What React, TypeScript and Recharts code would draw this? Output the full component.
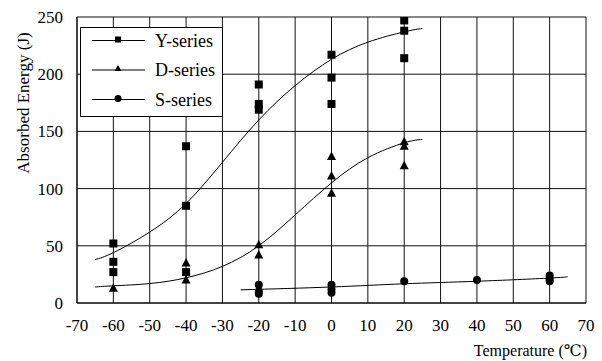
import React from "react";
import {
  ComposedChart,
  XAxis,
  YAxis,
  CartesianGrid,
  Line,
  Scatter,
  Legend,
} from "recharts";

const FONT = "Liberation Serif, DejaVu Serif, serif";

const xTicks = [-70, -60, -50, -40, -30, -20, -10, 0, 10, 20, 30, 40, 50, 60, 70];
const yTicks = [0, 50, 100, 150, 200, 250];

const yPoints = [
  { x: -60, y: 52 }, { x: -60, y: 36 }, { x: -60, y: 27 },
  { x: -40, y: 137 }, { x: -40, y: 85 }, { x: -40, y: 27 },
  { x: -20, y: 191 }, { x: -20, y: 174 }, { x: -20, y: 169 },
  { x: 0, y: 217 }, { x: 0, y: 197 }, { x: 0, y: 174 },
  { x: 20, y: 247 }, { x: 20, y: 238 }, { x: 20, y: 214 },
];

const dPoints = [
  { x: -60, y: 13 },
  { x: -40, y: 35 }, { x: -40, y: 20 },
  { x: -20, y: 51 }, { x: -20, y: 42 },
  { x: 0, y: 128 }, { x: 0, y: 111 }, { x: 0, y: 96 },
  { x: 20, y: 141 }, { x: 20, y: 137 }, { x: 20, y: 120 },
];

const sPoints = [
  { x: -20, y: 16 }, { x: -20, y: 10 }, { x: -20, y: 8 },
  { x: 0, y: 16 }, { x: 0, y: 12 }, { x: 0, y: 9 },
  { x: 20, y: 19 },
  { x: 40, y: 20 },
  { x: 60, y: 24 }, { x: 60, y: 21 }, { x: 60, y: 19 },
];

const yCurve = [
  { x: -65, y: 38 }, { x: -60, y: 44 }, { x: -50, y: 62 }, { x: -40, y: 87 },
  { x: -30, y: 123 }, { x: -20, y: 160 }, { x: -10, y: 190 }, { x: 0, y: 213 },
  { x: 10, y: 228 }, { x: 20, y: 237 }, { x: 25, y: 240 },
];

const dCurve = [
  { x: -65, y: 14 }, { x: -60, y: 15 }, { x: -50, y: 17 }, { x: -40, y: 22 },
  { x: -30, y: 32 }, { x: -20, y: 50 }, { x: -10, y: 77 }, { x: 0, y: 105 },
  { x: 10, y: 127 }, { x: 20, y: 140 }, { x: 25, y: 143 },
];

const sCurve = [
  { x: -25, y: 11.5 }, { x: 0, y: 14 }, { x: 20, y: 16.8 },
  { x: 40, y: 19 }, { x: 60, y: 21.8 }, { x: 65, y: 23 },
];

const legendItems = [
  { name: "Y-series", shape: "square" },
  { name: "D-series", shape: "triangle" },
  { name: "S-series", shape: "circle" },
];

const Square = (props: any) => {
  const { cx, cy } = props;
  if (cx == null || cy == null) return null;
  return <rect x={cx - 4} y={cy - 4} width={8} height={8} fill="#000" />;
};

const Triangle = (props: any) => {
  const { cx, cy } = props;
  if (cx == null || cy == null) return null;
  return (
    <polygon
      points={`${cx},${cy - 5} ${cx - 4.5},${cy + 3.5} ${cx + 4.5},${cy + 3.5}`}
      fill="#000"
    />
  );
};

const Dot = (props: any) => {
  const { cx, cy } = props;
  if (cx == null || cy == null) return null;
  return <ellipse cx={cx} cy={cy} rx={4} ry={4} fill="#000" />;
};

const marker = (shape: string, cx: number, cy: number) => {
  if (shape === "square") return <rect x={cx - 3} y={cy - 3} width={6} height={6} fill="#000" />;
  if (shape === "triangle")
    return <polygon points={`${cx},${cy - 4} ${cx - 3.5},${cy + 2} ${cx + 3.5},${cy + 2}`} fill="#000" />;
  return <circle cx={cx} cy={cy} r={3.5} fill="#000" />;
};

const LegendBox = () => (
  <svg width={143} height={90} style={{ display: "block" }}>
    <rect x={0.5} y={0.5} width={142} height={89} fill="#fff" stroke="#000" strokeWidth={1} />
    {legendItems.map((it, i) => {
      const cy = 13.5 + i * 29.5;
      return (
        <g key={it.name}>
          <line x1={12} y1={cy} x2={65} y2={cy} stroke="#000" strokeWidth={1} />
          {marker(it.shape, 38, cy - 1)}
          <text
            x={75}
            y={cy}
            dy="0.35em"
            style={{ fontFamily: FONT, fontSize: 18 }}
            fill="#000"
          >
            {it.name}
          </text>
        </g>
      );
    })}
  </svg>
);

const YLabel = (props: any) => {
  const vb = props.viewBox || { x: 0, y: 17 };
  const x = vb.x + 23;
  const y = vb.y + 86;
  return (
    <text
      x={x}
      y={y}
      transform={`rotate(-90 ${x} ${y})`}
      textAnchor="middle"
      dominantBaseline="central"
      style={{ fontFamily: FONT, fontSize: 17 }}
      fill="#000"
    >
      Absorbed Energy (J)
    </text>
  );
};

const XLabel = (props: any) => {
  const vb = props.viewBox || { x: 77, y: 303, width: 509, height: 58 };
  const x = vb.x + vb.width + 1;
  const y = vb.y + vb.height - 5;
  return (
    <text x={x} y={y} textAnchor="end" style={{ fontFamily: FONT, fontSize: 16 }} fill="#000">
      Temperature (℃)
    </text>
  );
};

const tickStyle = { fill: "#000", fontFamily: FONT, fontSize: 17, style: { fontFamily: FONT } };

export default function App() {
  return (
    <div style={{ position: "absolute", left: 0, top: 0, width: 602, height: 361, background: "#fff", fontFamily: FONT }}>
      <ComposedChart
        width={602}
        height={361}
        margin={{ top: 17, right: 16, bottom: 0, left: 0 }}
        style={{ fontFamily: FONT }}
      >
        <CartesianGrid stroke="#111" strokeWidth={1} />
        <XAxis
          dataKey="x"
          type="number"
          domain={[-70, 70]}
          ticks={xTicks}
          interval={0}
          height={58}
          tickLine={false}
          tickMargin={10}
          axisLine={{ stroke: "#000" }}
          tick={tickStyle}
          allowDataOverflow
          label={{ content: XLabel }}
        />
        <YAxis
          type="number"
          domain={[0, 250]}
          ticks={yTicks}
          interval={0}
          width={77}
          tickLine={false}
          tickMargin={8}
          axisLine={{ stroke: "#000" }}
          tick={tickStyle}
          allowDataOverflow
          label={{ content: YLabel }}
        />
        <Line data={yCurve} dataKey="y" type="natural" stroke="#000" strokeWidth={1} dot={false} activeDot={false} isAnimationActive={false} legendType="none" />
        <Line data={dCurve} dataKey="y" type="natural" stroke="#000" strokeWidth={1} dot={false} activeDot={false} isAnimationActive={false} legendType="none" />
        <Line data={sCurve} dataKey="y" type="natural" stroke="#000" strokeWidth={1} dot={false} activeDot={false} isAnimationActive={false} legendType="none" />
        <Scatter data={yPoints} dataKey="y" name="Y-series" shape={Square} isAnimationActive={false} />
        <Scatter data={dPoints} dataKey="y" name="D-series" shape={Triangle} isAnimationActive={false} />
        <Scatter data={sPoints} dataKey="y" name="S-series" shape={Dot} isAnimationActive={false} />
        <Legend
          layout="vertical"
          align="center"
          verticalAlign="middle"
          content={() => <LegendBox />}
          wrapperStyle={{ position: "absolute", left: 80, top: 27, width: 143, height: 90, right: "auto", bottom: "auto" }}
        />
      </ComposedChart>
    </div>
  );
}
